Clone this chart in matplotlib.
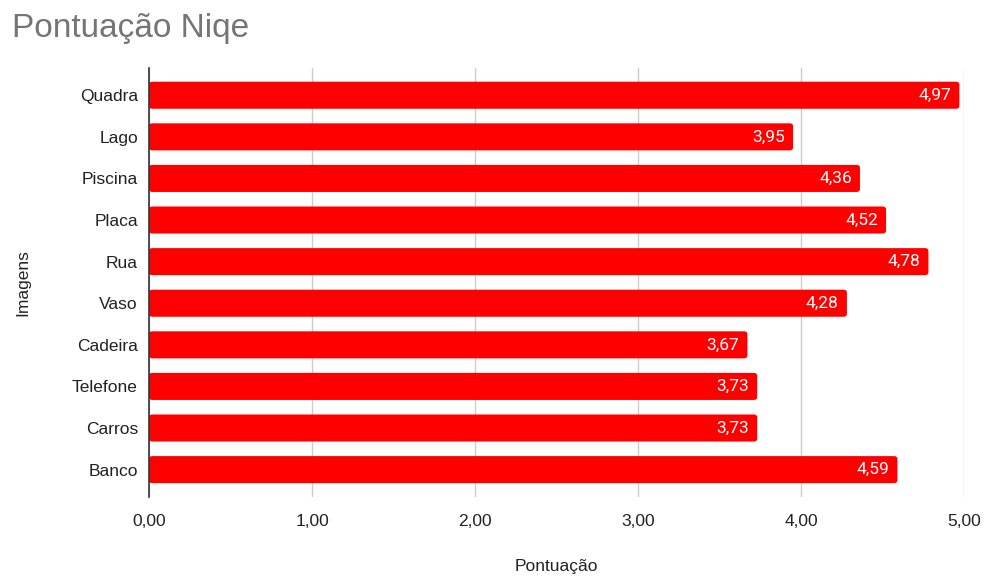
import matplotlib
matplotlib.use("Agg")
import matplotlib.pyplot as plt
from matplotlib.patches import FancyBboxPatch

plt.rcParams['font.family'] = ['Liberation Sans', 'DejaVu Sans']

# dados
imagens = ["Quadra", "Lago", "Piscina", "Placa", "Rua", "Vaso",
           "Cadeira", "Telefone", "Carros", "Banco"]
pontuacao = [4.97, 3.95, 4.36, 4.52, 4.78, 4.28, 3.67, 3.73, 3.73, 4.59]
xticks = [0, 1, 2, 3, 4, 5]

fig = plt.figure(figsize=(9.87, 5.78), dpi=100)
ax = fig.add_axes([0.151, 0.140, 0.826, 0.742])

ypos = list(range(len(imagens)))
h = 0.65
bars = ax.barh(ypos, pontuacao, height=h, color="#ff0000", zorder=3)

# cantos arredondados leves
for b in bars:
    x0, y0 = b.get_x(), b.get_y()
    w, hh = b.get_width(), b.get_height()
    b.set_visible(False)
    p = FancyBboxPatch((x0, y0), w, hh,
                       boxstyle="round,pad=0,rounding_size=0.02",
                       mutation_aspect=3.5,
                       facecolor="#ff0000", edgecolor="none", zorder=3)
    ax.add_patch(p)

for y, v in zip(ypos, pontuacao):
    ax.text(v - 0.05, y, f"{v:.2f}".replace(".", ","), ha="right", va="center",
            color="white", fontsize=12.5, family=['Roboto', 'DejaVu Sans'],
            zorder=4)

ax.set_xlim(0, 5.0)
ax.set_ylim(len(imagens) - 1 + 0.66, -0.65)
ax.set_yticks(ypos)
ax.set_yticklabels(imagens)
ax.set_xticks(xticks)
ax.set_xticklabels([f"{t:.2f}".replace(".", ",") for t in xticks])

ax.tick_params(axis="both", length=0, labelsize=12.5, labelcolor="#222222")
ax.tick_params(axis="x", pad=12)
ax.tick_params(axis="y", pad=8)
ax.grid(axis="x", color="#cccccc", linewidth=1, zorder=0)
for s in ["top", "right", "bottom"]:
    ax.spines[s].set_visible(False)
ax.spines["left"].set_color("#333333")
ax.spines["left"].set_linewidth(1.2)
ax.spines["left"].set_zorder(5)

ax.set_xlabel("Pontuação", fontsize=12.5, color="#222222", labelpad=22)
ax.yaxis.set_label_coords(-0.146, 0.5)
ax.set_ylabel("Imagens", fontsize=12.5, color="#222222")

fig.text(0.012, 0.950, "Pontuação Niqe", fontsize=24, color="#757575",
         ha="left", va="center")

fig.savefig("out.png", dpi=100)
